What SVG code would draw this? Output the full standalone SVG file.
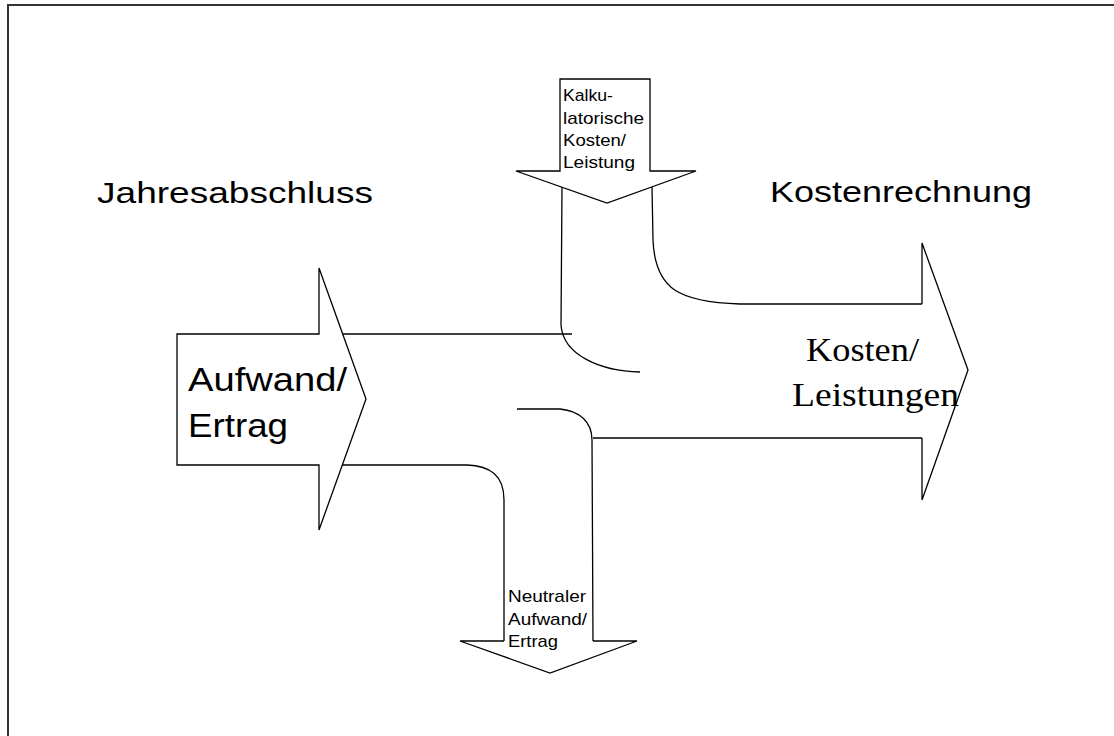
<svg xmlns="http://www.w3.org/2000/svg" width="1114" height="736" viewBox="0 0 1114 736">
<style>
.ln{fill:none;stroke:#000;stroke-width:1.3;stroke-linejoin:miter}
.sh{fill:#fff;stroke:#000;stroke-width:1.3}
.sans{font-family:"Liberation Sans",Arial,sans-serif;fill:#000}
.serif{font-family:"Liberation Serif","Times New Roman",serif;fill:#000}
</style>
<rect x="0" y="0" width="1114" height="736" fill="#fff"/>
<polyline points="8,736 8,5 1114,5" fill="none" stroke="#333" stroke-width="2"/>
<g id="titles">
<text class="sans" x="97" y="203" font-size="29" textLength="276" lengthAdjust="spacingAndGlyphs">Jahresabschluss</text>
<text class="sans" x="770" y="202" font-size="29" textLength="262" lengthAdjust="spacingAndGlyphs">Kostenrechnung</text>
</g>
<g id="connectors">
<path class="ln" d="M343,334 L572,334"/>
<path class="ln" d="M562,187 L561,325 C563,355 600,371 640,372"/>
<path class="ln" d="M652,187 L653,240 C655,290 680,302 740,304 L922,304"/>
<path class="ln" d="M342,465 L467,465 C490,466 504,475 504,500 L504,641"/>
<path class="ln" d="M517,409 L560,409 C580,411 592,422 592,440 L593,641"/>
<path class="ln" d="M593,438 L922,438"/>
</g>
<g id="aufwand">
<path class="ln" d="M319,465 L177,465 L177,334 L319,334 L319,268 L366,399 L319,530 Z" fill="#fff"/>
<text class="sans" x="188" y="391" font-size="34" textLength="159" lengthAdjust="spacingAndGlyphs">Aufwand/</text>
<text class="sans" x="188" y="437" font-size="34" textLength="100" lengthAdjust="spacingAndGlyphs">Ertrag</text>
</g>
<g id="kosten">
<path class="ln" d="M922,304 L922,243 L968,370 L922,500 L922,438"/>
<text class="serif" x="806" y="361" font-size="33" textLength="113" lengthAdjust="spacingAndGlyphs">Kosten/</text>
<text class="serif" x="792" y="406" font-size="33" textLength="167" lengthAdjust="spacingAndGlyphs">Leistungen</text>
</g>
<g id="kalkulatorisch">
<path class="sh" d="M560,79 L650,79 L650,171 L696,171 L607,203 L516,171 L560,171 Z"/>
<text class="sans" x="563" y="101" font-size="17" textLength="50" lengthAdjust="spacingAndGlyphs">Kalku-</text>
<text class="sans" x="563" y="124" font-size="17" textLength="81" lengthAdjust="spacingAndGlyphs">latorische</text>
<text class="sans" x="563" y="146" font-size="17" textLength="63" lengthAdjust="spacingAndGlyphs">Kosten/</text>
<text class="sans" x="563" y="168" font-size="17" textLength="72" lengthAdjust="spacingAndGlyphs">Leistung</text>
</g>
<g id="neutral">
<path class="ln" d="M504,641 L460,641 L550,673 L637,641 L593,641"/>
<text class="sans" x="508" y="602" font-size="17" textLength="78" lengthAdjust="spacingAndGlyphs">Neutraler</text>
<text class="sans" x="508" y="625" font-size="17" textLength="79" lengthAdjust="spacingAndGlyphs">Aufwand/</text>
<text class="sans" x="508" y="647" font-size="17" textLength="50" lengthAdjust="spacingAndGlyphs">Ertrag</text>
</g>
</svg>
